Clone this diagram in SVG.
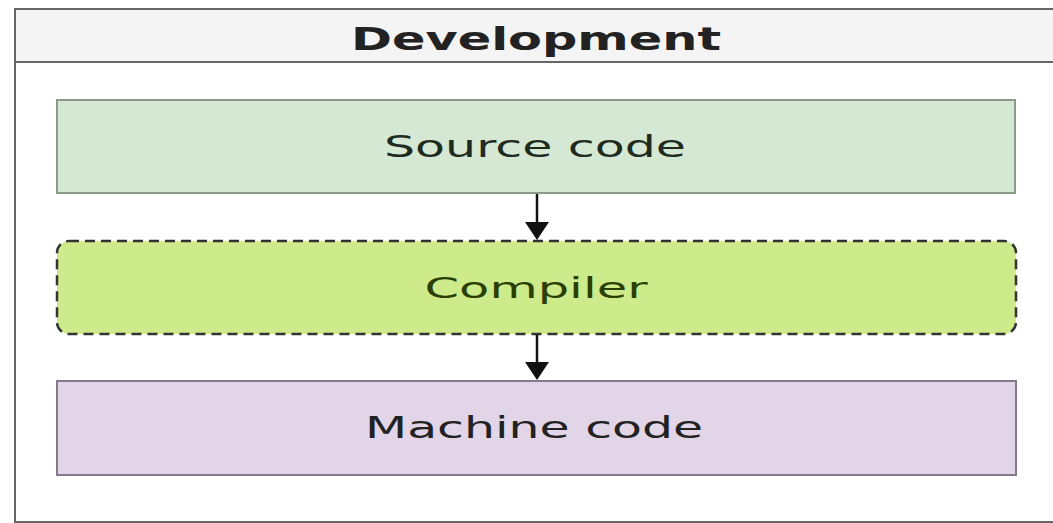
<svg xmlns="http://www.w3.org/2000/svg" width="1053" height="523" viewBox="0 0 1053 523">
<style>
  .lbl { font-family: "DejaVu Sans", "Liberation Sans", sans-serif; text-anchor: middle; }
  .box { stroke-width: 2; }
  .conn { stroke: #111; stroke-width: 2.5; fill: none; }
</style>
<defs>
  <marker id="ah" markerWidth="10" markerHeight="8" refX="9" refY="4" orient="auto" markerUnits="userSpaceOnUse" viewBox="0 0 10 8">
    <path d="M0,0 L10,4 L0,8 Z" fill="#111"/>
  </marker>
</defs>
<rect width="1053" height="523" fill="#ffffff"/>
<g id="container">
  <rect x="15" y="9" width="1045" height="513" fill="#ffffff" stroke="#666" stroke-width="2"/>
  <rect x="15" y="9" width="1045" height="53" fill="#f4f4f4" stroke="#666" stroke-width="2"/>
  <text class="lbl" x="536" y="50" font-size="32" font-weight="bold" fill="#222" textLength="370" lengthAdjust="spacingAndGlyphs">Development</text>
</g>
<g id="source">
  <rect class="box" x="57" y="100" width="958" height="93" fill="#d5e8d4" stroke="#8a9c88"/>
  <text class="lbl" x="535" y="157" font-size="30" fill="#1f2b1f" textLength="302" lengthAdjust="spacingAndGlyphs">Source code</text>
</g>
<g id="compiler">
  <rect x="57" y="241" width="959" height="93" rx="12" ry="12" fill="#cdeb8b" stroke="#333" stroke-width="2.5" stroke-dasharray="10 6"/>
  <text class="lbl" x="536" y="298" font-size="29" fill="#2a3f00" textLength="223" lengthAdjust="spacingAndGlyphs">Compiler</text>
</g>
<g id="machine">
  <rect class="box" x="57" y="381" width="959" height="94" fill="#e1d5e7" stroke="#857a8c"/>
  <text class="lbl" x="534" y="438" font-size="30" fill="#222" textLength="338" lengthAdjust="spacingAndGlyphs">Machine code</text>
</g>
<g id="connectors">
  <line class="conn" x1="537" y1="194" x2="537" y2="224"/>
  <path d="M525,222 L549,222 L537,240 Z" fill="#111"/>
  <line class="conn" x1="537" y1="335" x2="537" y2="364"/>
  <path d="M525,362 L549,362 L537,380 Z" fill="#111"/>
</g>
</svg>
